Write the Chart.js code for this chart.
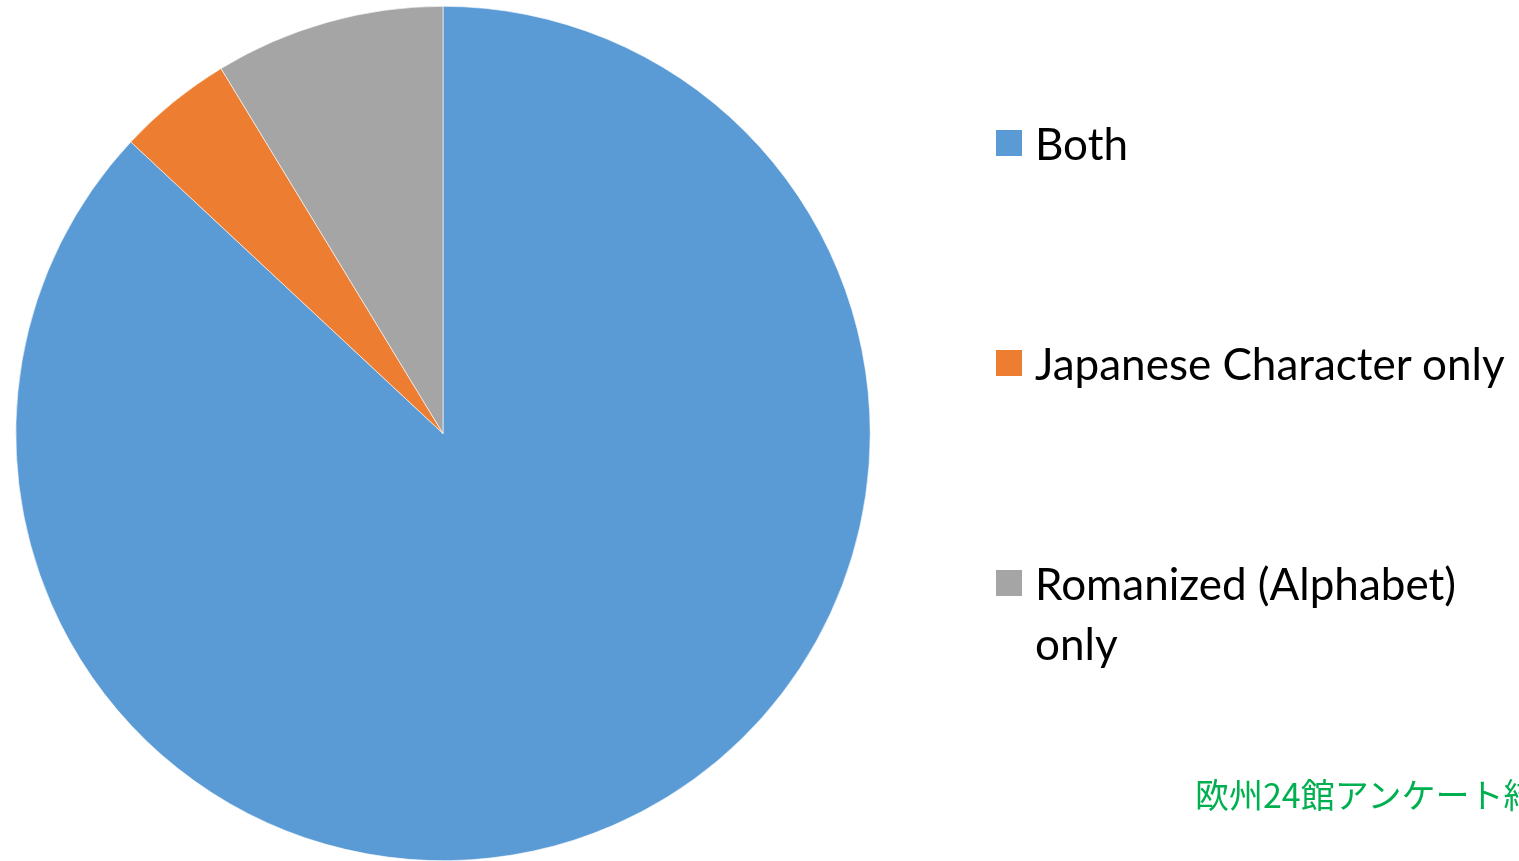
<!DOCTYPE html>
<html lang="ja">
<head>
    <meta charset="UTF-8">
    <title>Display of object labels</title>
    <style>
        * {
            margin: 0;
            padding: 0;
            box-sizing: border-box;
        }

        body {
            width: 1519px;
            height: 861px;
            overflow: hidden;
            background: #fff;
            position: relative;
            font-family: Lato, "Open Sans", sans-serif;
        }

        #chart-box {
            position: absolute;
            left: 0;
            top: 0;
            width: 1519px;
            height: 861px;
        }

        /* Legend on the right, built from the same arrays */
        .legend-item {
            position: absolute;
            left: 996px;
            width: 515px;
            padding-left: 39px;
            font-size: 44px;
            line-height: 60px;
            color: #000;
        }

        .legend-item .swatch {
            position: absolute;
            left: 0;
            top: 17px;
            width: 26px;
            height: 26px;
        }

        .source {
            position: absolute;
            left: 1195px;
            top: 773px;
            font-family: "Noto Sans CJK JP", sans-serif;
            font-size: 34px;
            line-height: 42px;
            color: #00B050;
            white-space: nowrap;
        }
    </style>
</head>
<body>
    <div id="chart-box">
        <canvas id="pieChart"></canvas>
    </div>
    <div id="legend"></div>
    <div class="source">欧州24館アンケート結果</div>

    <script src="https://cdn.jsdelivr.net/npm/chart.js"></script>
    <script>
        // museums answering each option (24-museum survey)
        const labels = ['Both', 'Japanese Character only', 'Romanized (Alphabet) only'];
        const counts = [20, 1, 2];
        const colors = ['#5B9BD5', '#ED7D31', '#A5A5A5'];

        const ctx = document.getElementById('pieChart').getContext('2d');
        new Chart(ctx, {
            type: 'pie',
            data: {
                labels: labels,
                datasets: [{
                    data: counts,
                    backgroundColor: colors,
                    borderColor: '#ffffff',
                    borderWidth: 0.6
                }]
            },
            options: {
                responsive: true,
                maintainAspectRatio: false,
                animation: false,
                layout: {
                    padding: { left: 15, top: 6, right: 648, bottom: 0 }
                },
                plugins: {
                    legend: { display: false },
                    tooltip: { enabled: false }
                }
            }
        });

        // html legend so the long label can wrap
        const legend = document.getElementById('legend');
        labels.forEach((label, i) => {
            const item = document.createElement('div');
            item.className = 'legend-item';
            item.style.top = (113 + i * 220) + 'px';
            const sw = document.createElement('span');
            sw.className = 'swatch';
            sw.style.background = colors[i];
            item.appendChild(sw);
            item.appendChild(document.createTextNode(label));
            legend.appendChild(item);
        });
    </script>
</body>
</html>
